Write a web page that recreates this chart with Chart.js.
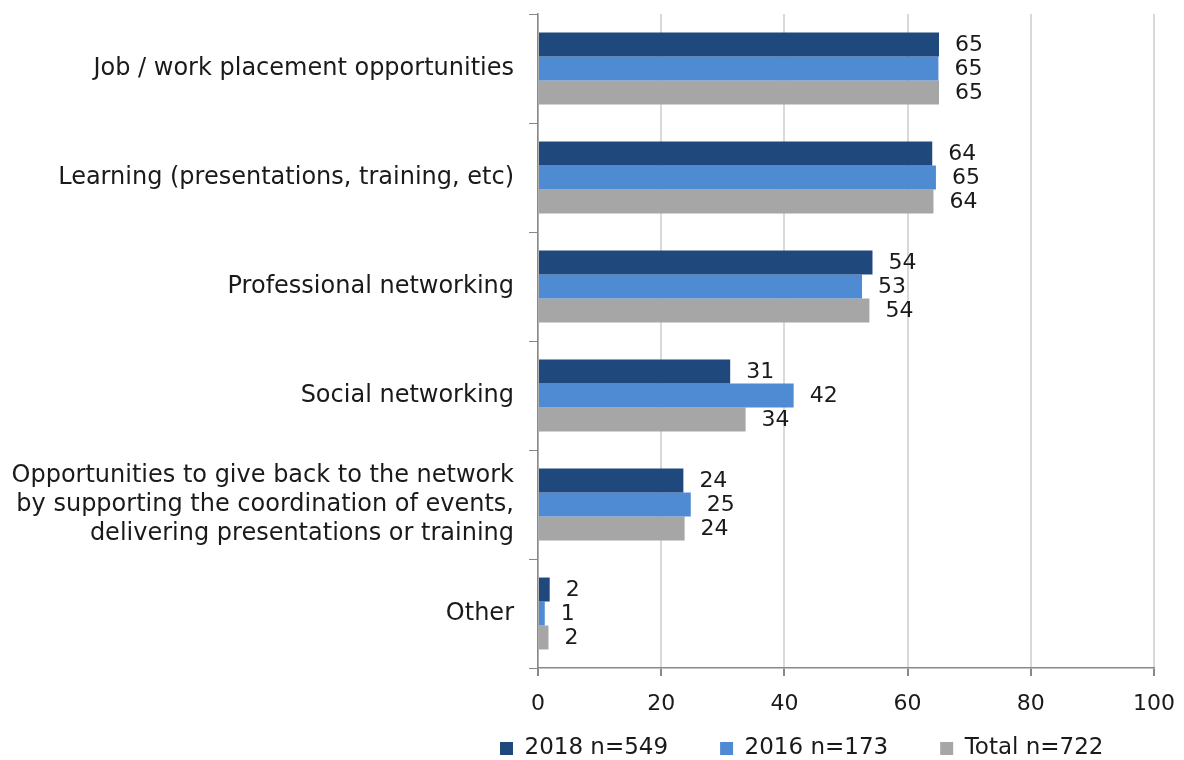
<!DOCTYPE html>
<html>
<head>
<meta charset="utf-8">
<script src="https://cdn.jsdelivr.net/npm/chart.js@4/dist/chart.umd.min.js"></script>
<style>
  html, body { margin: 0; padding: 0; background: #fff; }
  #wrap { width: 1184px; height: 760px; }
</style>
</head>
<body>
<div id="wrap"><canvas id="benefits"></canvas></div>
<script>
const categories = [
  'Job / work placement opportunities',
  'Learning (presentations, training, etc)',
  'Professional networking',
  'Social networking',
  ['Opportunities to give back to the network', 'by supporting the coordination of events,', 'delivering presentations or training'],
  'Other',
]
const values2018 = [65.1, 64.0, 54.3, 31.2, 23.6, 1.9]
const values2016 = [65.0, 64.6, 52.6, 41.5, 24.8, 1.1]
const valuesTotal = [65.1, 64.2, 53.8, 33.7, 23.8, 1.7]
const seriesNames = ['2018 n=549', '2016 n=173', 'Total n=722']
const xTicks = [0, 20, 40, 60, 80, 100]

const fontFamily = "'DejaVu Sans', Verdana, sans-serif"
Chart.defaults.font.family = fontFamily
Chart.defaults.color = '#1a1a1a'

// value labels to the right of each bar
const barValueLabels = {
  id: 'barValueLabels',
  afterDatasetsDraw(chart) {
    const ctx = chart.ctx
    ctx.save()
    ctx.font = `22px ${fontFamily}`
    ctx.fillStyle = '#1a1a1a'
    ctx.textAlign = 'left'
    ctx.textBaseline = 'middle'
    chart.data.datasets.forEach((ds, i) => {
      chart.getDatasetMeta(i).data.forEach((bar, j) => {
        ctx.fillText(Math.round(ds.data[j]), bar.x + 16, bar.y + 1)
      })
    })
    ctx.restore()
  },
}

// place the legend row where the original had it
const legendPlacer = {
  id: 'legendPlacer',
  afterLayout(chart) {
    const lg = chart.legend
    if (!lg) return
    lg.left = 500 - 52
    lg.right = 1184
    lg.top = 685
  },
}

new Chart(document.getElementById('benefits'), {
  type: 'bar',
  data: {
    labels: categories,
    datasets: [
      { label: seriesNames[0], data: values2018, backgroundColor: '#1f497d' },
      { label: seriesNames[1], data: values2016, backgroundColor: '#4f8bd3' },
      { label: seriesNames[2], data: valuesTotal, backgroundColor: '#a6a6a6' },
    ],
  },
  options: {
    indexAxis: 'y',
    responsive: true,
    maintainAspectRatio: false,
    animation: false,
    categoryPercentage: 0.66,
    barPercentage: 1,
    layout: { padding: { top: 14, left: 0, right: 30, bottom: -43 } },
    plugins: {
      tooltip: { enabled: false },
      legend: {
        position: 'bottom',
        align: 'start',
        labels: {
          boxWidth: 13,
          boxHeight: 13,
          padding: 52,
          font: { size: 23 },
          color: '#1a1a1a',
        },
      },
    },
    scales: {
      x: {
        min: 0,
        max: 100,
        afterBuildTicks: (scale) => { scale.ticks = xTicks.map((v) => ({ value: v })) },
        afterFit: (scale) => {
          scale.height = 50
          scale.paddingRight = 0
        },
        grid: { color: '#d9d9d9', lineWidth: 2, tickColor: '#888', tickLength: 8 },
        border: { color: '#888', width: 1.5 },
        ticks: { font: { size: 22 }, padding: 15, color: '#1a1a1a' },
      },
      y: {
        afterFit: (scale) => {
          scale.width = 538
          scale.paddingTop = 0
          scale.paddingBottom = 0
        },
        grid: { drawOnChartArea: false, color: '#888', tickLength: 9, offset: true },
        border: { color: '#888', width: 1.5 },
        ticks: { font: { size: 24, lineHeight: 1.2 }, padding: 15, autoSkip: false, color: '#1a1a1a' },
      },
    },
  },
  plugins: [barValueLabels, legendPlacer],
})
</script>
</body>
</html>
